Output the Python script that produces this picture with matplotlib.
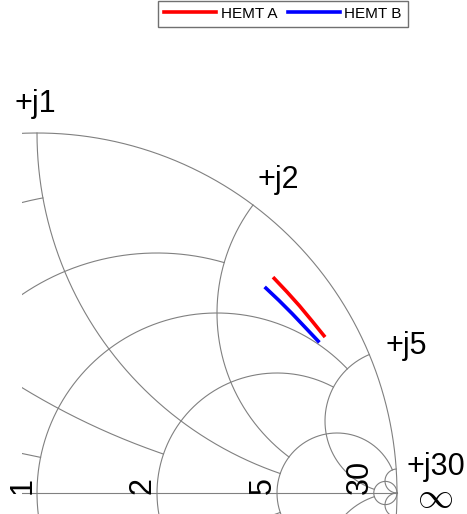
import numpy as np
import matplotlib.pyplot as plt
from matplotlib.patches import Rectangle

plt.rcParams["font.family"] = ["Liberation Sans", "DejaVu Sans"]

# smith chart grid, matlab style: grid value and the value up to which it is drawn
r_grid = [30, 5, 2, 1, 0.5, 0.2]
r_grid_lim = [np.inf, 30, 5, 5, 2, 1]
x_grid = [30, 5, 2, 1, 0.5, 0.2]
x_grid_lim = [np.inf, 30, 5, 5, 2, 1]

r_labels = {1: "1", 2: "2", 5: "5", 30: "30"}
x_labels = {1: "+j1", 2: "+j2", 5: "+j5", 30: "+j30"}

# reflection coefficient of the two devices
hemt_a_re = [0.659, 0.694, 0.729, 0.763, 0.797]
hemt_a_im = [0.596, 0.559, 0.520, 0.479, 0.437]
hemt_b_re = [0.636, 0.672, 0.709, 0.745, 0.781]
hemt_b_im = [0.569, 0.535, 0.498, 0.460, 0.422]

grid_color = "#808080"
grid_lw = 0.8


def gamma(z):
    return (z - 1) / (z + 1)


def r_circle(r, lim):
    s = np.linspace(-np.arctan(lim), np.arctan(lim), 2000)
    return gamma(r + 1j * np.tan(s))


def x_arc(x, lim):
    s = np.linspace(0, np.arctan(lim), 2000)
    return gamma(np.tan(s) + 1j * x)


fig = plt.figure(figsize=(4.67, 5.14), dpi=100)
ax = fig.add_axes([0, 0, 1, 1])
ax.set_xlim(-37 / 360, 430 / 360)
ax.set_ylim(-21 / 360, 493 / 360)
ax.axis("off")

clip = Rectangle((-0.042, -0.5), 1.5, 2.0, transform=ax.transData)

lines = []
# outer circle and real axis
g = r_circle(0, np.inf)
lines += ax.plot(g.real, g.imag, color=grid_color, lw=grid_lw)
lines += ax.plot([-1, 1], [0, 0], color=grid_color, lw=grid_lw)

for r, lim in zip(r_grid, r_grid_lim):
    g = r_circle(r, lim)
    lines += ax.plot(g.real, g.imag, color=grid_color, lw=grid_lw)

for x, lim in zip(x_grid, x_grid_lim):
    for sgn in (1, -1):
        g = x_arc(sgn * x, lim)
        lines += ax.plot(g.real, g.imag, color=grid_color, lw=grid_lw)

for ln in lines:
    ln.set_clip_path(clip)

# labels
label_fs = 22
x_offsets = {1: (-2, 21), 2: (25, 17), 5: (37, 1), 30: (40, -6)}
for x, txt in x_labels.items():
    g = gamma(1j * x)
    ax.annotate(txt, xy=(g.real, g.imag), xytext=x_offsets[x],
                textcoords="offset pixels", ha="center", va="baseline",
                fontsize=label_fs)

ax.annotate(r"$\infty$", xy=(1, 0), xytext=(38, -4), textcoords="offset pixels",
            ha="center", va="center", fontsize=26, math_fontfamily="cm")

for r, txt in r_labels.items():
    g = gamma(r)
    ax.annotate(txt, xy=(g, 0), xytext=(-6, -1), textcoords="offset pixels",
                rotation=90, rotation_mode="anchor", ha="left", va="baseline",
                fontsize=label_fs)

# data
ax.plot(hemt_a_re, hemt_a_im, color="#ff0000", lw=2.6, label="HEMT A",
        solid_joinstyle="round")
ax.plot(hemt_b_re, hemt_b_im, color="#0000ff", lw=2.6, label="HEMT B",
        solid_joinstyle="round")

leg = fig.legend(loc="upper center", bbox_to_anchor=(283 / 467, 1 - 0.5 / 514),
                 ncol=2, fontsize=11, handlelength=3.4, handletextpad=0.3,
                 columnspacing=0.7, borderpad=0.4, borderaxespad=0,
                 fancybox=False, framealpha=1, edgecolor="#707070")
leg.get_frame().set_linewidth(1.0)

plt.savefig("out.png", dpi=100)
